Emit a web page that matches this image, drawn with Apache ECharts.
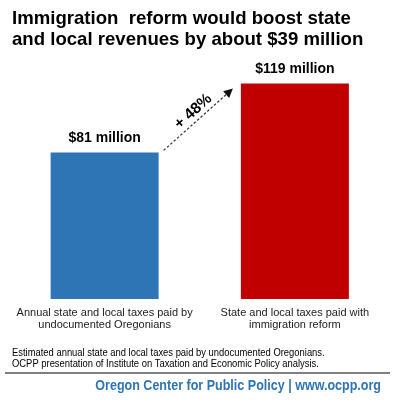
<!DOCTYPE html>
<html>
<head>
<meta charset="utf-8">
<script src="https://cdn.jsdelivr.net/npm/echarts@6/dist/echarts.min.js"></script>
<style>
html,body{margin:0;padding:0;background:#fff;}
#main{width:394px;height:402px;}
</style>
</head>
<body>
<div id="main"></div>
<script>
var titleLines = ['Immigration  reform would boost state', 'and local revenues by about $39 million'];
var categories = ['Annual state and local taxes paid by\nundocumented Oregonians', 'State and local taxes paid with\nimmigration reform'];
var values = [81, 119];
var valueLabels = ['$81 million', '$119 million'];
var barColors = ['#2E75B6', '#C00000'];
var changeLabel = '+ 48%';
var footnoteLines = ['Estimated annual state and local taxes paid by undocumented Oregonians.', 'OCPP presentation of Institute on Taxation and Economic Policy analysis.'];
var footerText = 'Oregon Center for Public Policy | www.ocpp.org';

var chart = echarts.init(document.getElementById('main'), null, {renderer: 'canvas'});
var FONT = 'Liberation Sans, Arial, sans-serif';

var option = {
  animation: false,
  backgroundColor: '#ffffff',
  title: {
    text: titleLines.join('\n'),
    left: 7, top: 3,
    textStyle: {fontFamily: FONT, fontWeight: 'bold', fontSize: 18.6, lineHeight: 21, color: '#000'}
  },
  grid: {left: 9.5, right: 4, top: 81.8, bottom: 103, containLabel: false},
  xAxis: {
    type: 'category',
    data: categories,
    axisLine: {show: false},
    axisTick: {show: false},
    axisLabel: {interval: 0, margin: 8, fontFamily: FONT, fontSize: 11, lineHeight: 12, color: '#222'}
  },
  yAxis: {type: 'value', min: 0, max: 120, show: false, splitLine: {show: false}},
  series: [{
    type: 'bar',
    barWidth: 108,
    data: values.map(function (v, i) { return {value: v, itemStyle: {color: barColors[i]}}; }),
    label: {
      show: true, position: 'top', distance: 7,
      fontFamily: FONT, fontWeight: 'bold', fontSize: 14, color: '#000',
      formatter: function (p) { return valueLabels[p.dataIndex]; }
    }
  }]
};
chart.setOption(option);

function drawAnnotations() {
  var p0 = chart.convertToPixel({seriesIndex: 0}, [0, values[0]]);
  var p1 = chart.convertToPixel({seriesIndex: 0}, [1, values[1]]);
  var half = 54;
  var x0 = p0[0] + half + 5, y0 = p0[1] - 2;
  var x1 = p1[0] - half - 8, y1 = p1[1] + 5;
  var ang = Math.atan2(y1 - y0, x1 - x0);
  var ah = 9, aw = 4.5;
  var bx = x1 - ah * Math.cos(ang), by = y1 - ah * Math.sin(ang);
  var nx = -Math.sin(ang), ny = Math.cos(ang);
  var mx = (x0 + x1) / 2, my = (y0 + y1) / 2;
  chart.setOption({
    graphic: [
      {type: 'line', shape: {x1: x0, y1: y0, x2: bx, y2: by}, style: {stroke: '#333', lineWidth: 1.2, lineDash: [2.5, 2]}},
      {type: 'polygon', shape: {points: [[x1, y1], [bx + nx * aw, by + ny * aw], [bx - nx * aw, by - ny * aw]]}, style: {fill: '#111'}},
      {type: 'text', x: mx - 5, y: my - 8, rotation: -ang, originX: 0, originY: 0,
        style: {text: changeLabel, fontFamily: FONT, fontWeight: 'bold', fontSize: 15.5, fill: '#000', align: 'center', verticalAlign: 'middle'}},
      {type: 'text', x: 12, y: 347, scaleX: 0.855, style: {text: footnoteLines.join('\n'), fontFamily: FONT, fontSize: 11, lineHeight: 11.5, fill: '#000'}},
      {type: 'rect', shape: {x: 5, y: 372, width: 385, height: 2}, style: {fill: '#808080'}},
      {type: 'text', x: 381, y: 379, scaleX: 0.895, originX: 0, style: {text: footerText, fontFamily: FONT, fontWeight: 'bold', fontSize: 14, fill: '#2E75B6', align: 'right'}}
    ]
  });
}
drawAnnotations();
</script>
</body>
</html>
